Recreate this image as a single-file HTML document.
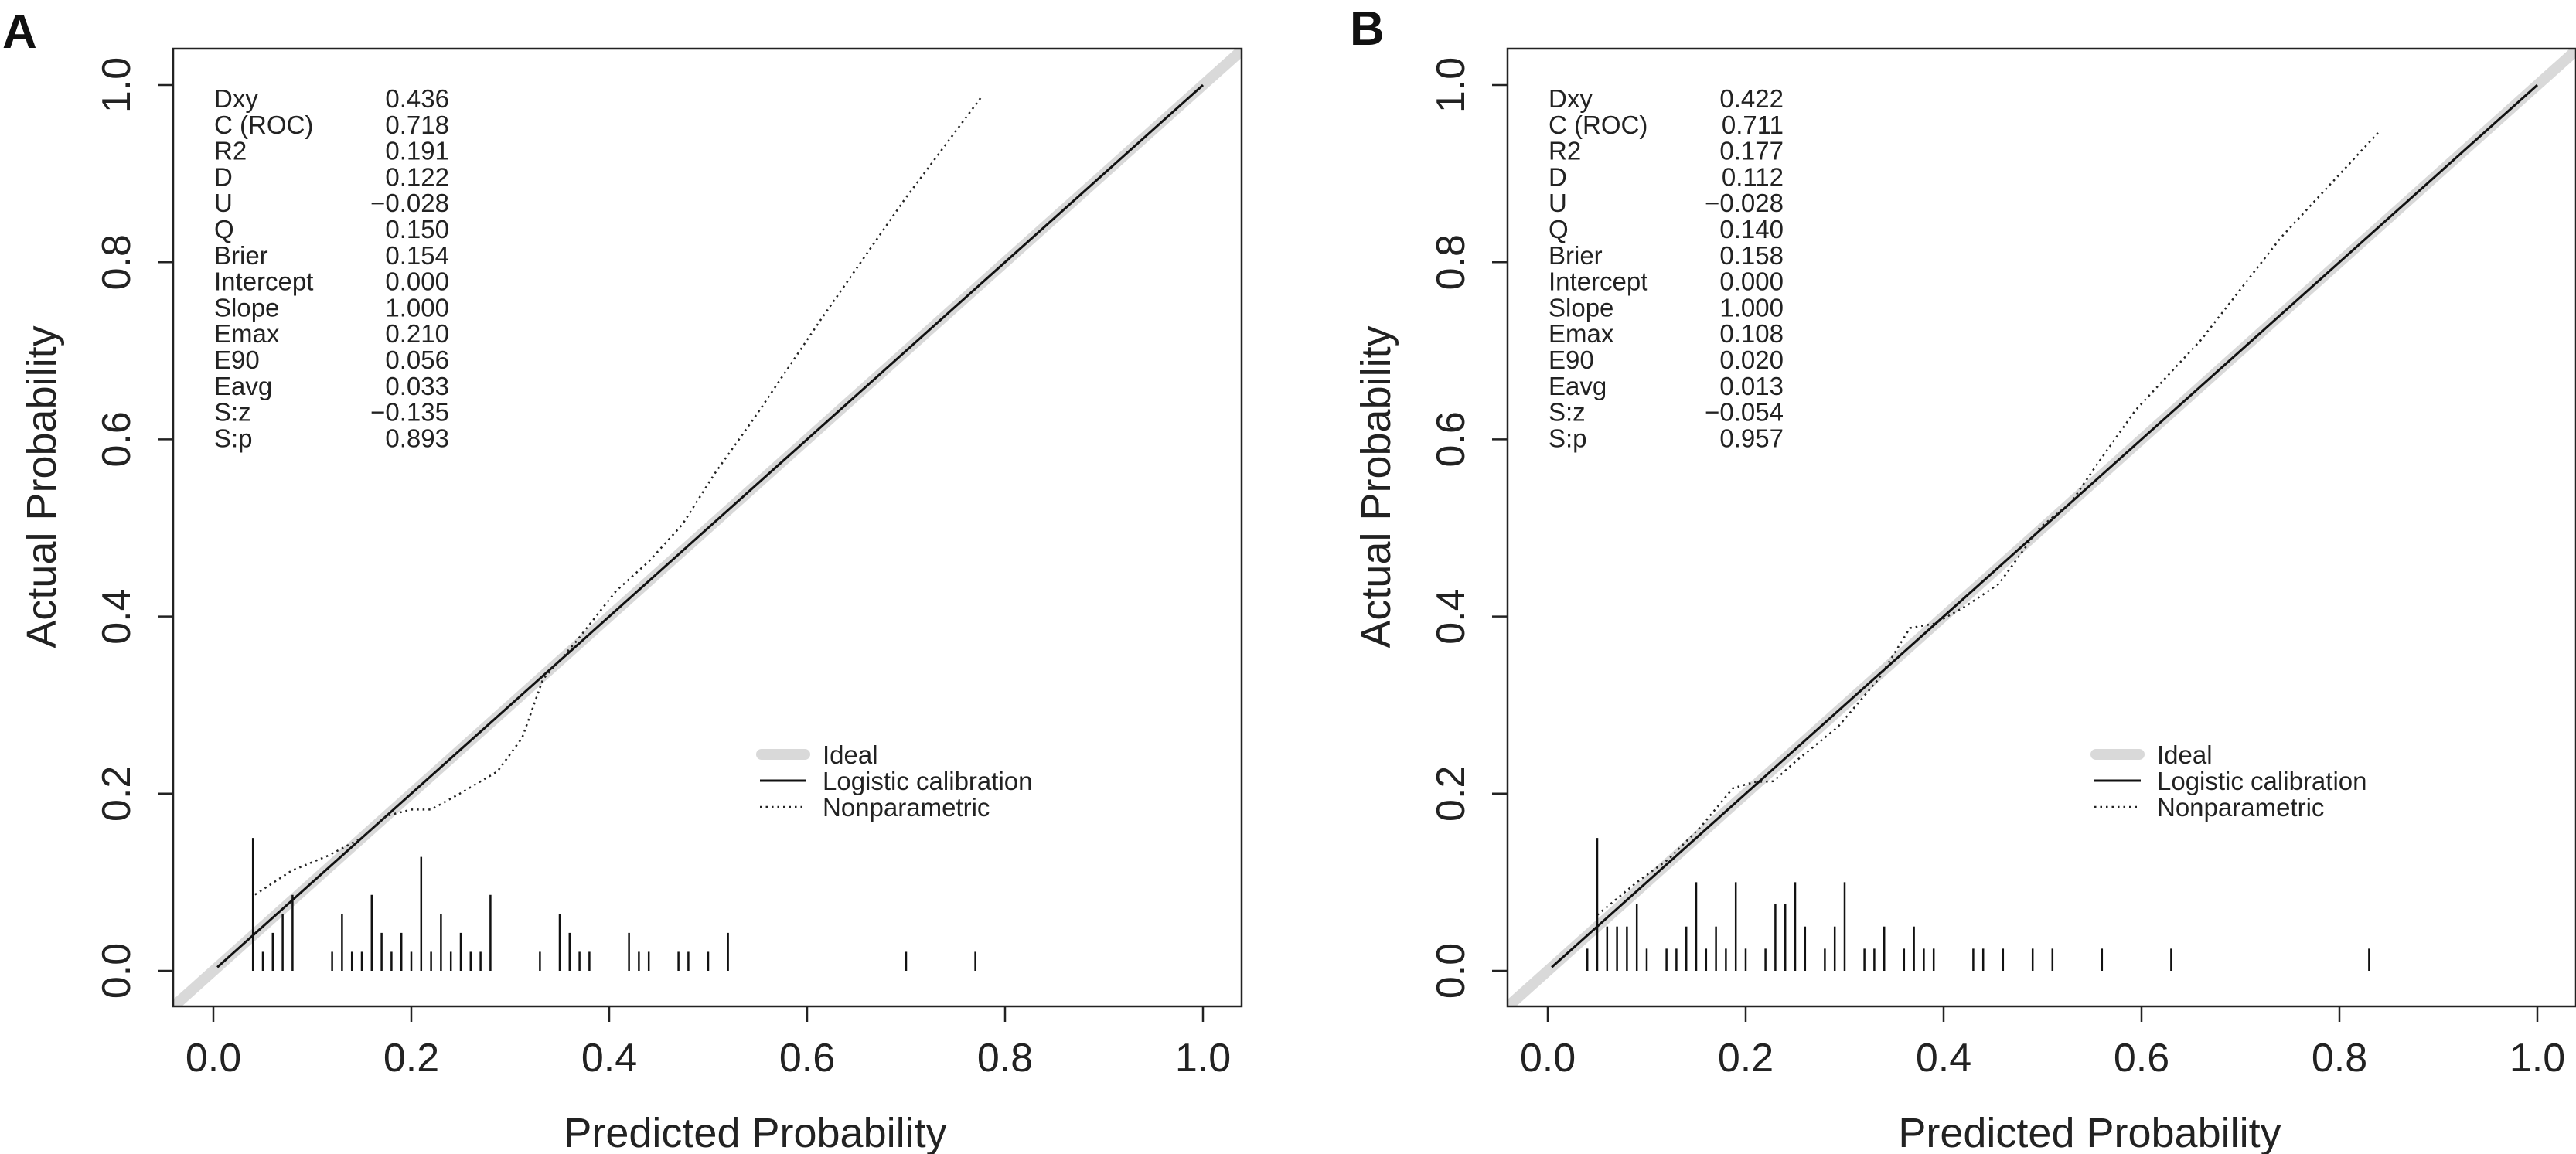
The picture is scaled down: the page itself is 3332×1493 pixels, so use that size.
<!DOCTYPE html>
<html><head><meta charset="utf-8"><style>
html,body{margin:0;padding:0;background:#fff;}
svg{display:block;font-family:"Liberation Sans",Arial,sans-serif;}
</style></head><body>
<svg id="fig" width="3332" height="1493" viewBox="0 0 3332 1493" xmlns="http://www.w3.org/2000/svg"></svg>
<script>
// ---- data ----
const tickValues = [0.0, 0.2, 0.4, 0.6, 0.8, 1.0];
const tickLabels = ["0.0", "0.2", "0.4", "0.6", "0.8", "1.0"];
const statNames = ["Dxy","C (ROC)","R2","D","U","Q","Brier","Intercept","Slope","Emax","E90","Eavg","S:z","S:p"];
const statsA = ["0.436","0.718","0.191","0.122","\u22120.028","0.150","0.154","0.000","1.000","0.210","0.056","0.033","\u22120.135","0.893"];
const statsB = ["0.422","0.711","0.177","0.112","\u22120.028","0.140","0.158","0.000","1.000","0.108","0.020","0.013","\u22120.054","0.957"];
const spikeXA = [.04,.05,.06,.07,.08,.12,.13,.14,.15,.16,.17,.18,.19,.20,.21,.22,.23,.24,.25,.26,.27,.28,.33,.35,.36,.37,.38,.42,.43,.44,.47,.48,.50,.52,.70,.77];
const spikeNA = [7,1,2,3,4,1,3,1,1,4,2,1,2,1,6,1,3,1,2,1,1,4,1,3,2,1,1,2,1,1,1,1,1,2,1,1];
const spikeXB = [.04,.05,.06,.07,.08,.09,.10,.12,.13,.14,.15,.16,.17,.18,.19,.20,.22,.23,.24,.25,.26,.28,.29,.30,.32,.33,.34,.36,.37,.38,.39,.43,.44,.46,.49,.51,.56,.63,.83];
const spikeNB = [1,6,2,2,2,3,1,1,1,2,4,1,2,1,4,1,1,3,3,4,2,1,2,4,1,1,2,1,2,1,1,1,1,1,1,1,1,1,1];
const npXA = [.042,.079,.116,.150,.175,.200,.220,.249,.287,.312,.333,.366,.407,.440,.474,.507,.549,.615,.698,.777];
const npYA = [.086,.113,.130,.150,.175,.182,.182,.200,.225,.263,.329,.371,.429,.462,.504,.562,.628,.737,.870,.988];
const npXB = [.050,.090,.122,.155,.187,.208,.228,.252,.293,.334,.366,.391,.423,.456,.497,.529,.554,.594,.660,.741,.839];
const npYB = [.063,.100,.126,.163,.206,.213,.214,.238,.275,.329,.387,.392,.412,.437,.500,.529,.570,.633,.712,.828,.946];
const legendLabels = ["Ideal","Logistic calibration","Nonparametric"];

const NS = "http://www.w3.org/2000/svg";
const svg = document.getElementById("fig");
function mk(tag, attrs, parent){ const e=document.createElementNS(NS,tag); for(const k in attrs) e.setAttribute(k,attrs[k]); (parent||svg).appendChild(e); return e; }

function panel(off, letter, stats, sx, sn, npx, npy, id){
  const g = mk("g",{});
  
  
  const X = v => off + 276 + v*1280;
  const Y = v => 1256 - v*1146;
  const L = off+224, R = off+1606, T = 63, B = 1302;
  const cp = mk("clipPath",{id:"clip"+id},g);
  mk("rect",{x:L,y:T,width:R-L,height:B-T},cp);
  // ideal
  const ideal = mk("line",{x1:X(-0.05),y1:Y(-0.05),x2:X(1.05),y2:Y(1.05),stroke:"#d9d9d9","stroke-width":14,"clip-path":"url(#clip"+id+")"},g);
  
  
  // logistic
  const lg = mk("line",{x1:X(0.004),y1:Y(0.004),x2:X(1),y2:Y(1),stroke:"#111","stroke-width":3},g);
  
  
  // nonparametric
  let d = npx.map((x,i)=>(i?"L":"M")+X(x).toFixed(1)+","+Y(npy[i]).toFixed(1)).join(" ");
  const np = mk("path",{d:d,fill:"none",stroke:"#222","stroke-width":2.5,"stroke-dasharray":"2.5 5"},g);
  
  
  // spikes
  const maxN = Math.max(...sn);
  sx.forEach((x,i)=>{
    const s = mk("line",{x1:X(x),x2:X(x),y1:Y(0),y2:Y(0.15*sn[i]/maxN),stroke:"#111","stroke-width":2.5},g);
    
    
  });
  // box
  const box = mk("rect",{x:L,y:T,width:R-L,height:B-T,fill:"none",stroke:"#222","stroke-width":2.5},g);
  
  
  // ticks
  tickValues.forEach((v,i)=>{
    mk("line",{x1:X(v),x2:X(v),y1:B,y2:B+20,stroke:"#222","stroke-width":2.5},g);
    const tx = mk("text",{x:X(v),y:1386,"font-size":52,"text-anchor":"middle",fill:"#222"},g);
    tx.textContent = tickLabels[i];
    
    
    mk("line",{x1:L-20,x2:L,y1:Y(v),y2:Y(v),stroke:"#222","stroke-width":2.5},g);
    const ty = mk("text",{x:0,y:0,"font-size":52,"text-anchor":"middle",fill:"#222",transform:`translate(${off+168},${Y(v)}) rotate(-90)`},g);
    ty.textContent = tickLabels[i];
    
    
  });
  const xt = mk("text",{x:off+977,y:1484,"font-size":54,"text-anchor":"middle",fill:"#222"},g);
  xt.textContent = "Predicted Probability";
  
  
  const yt = mk("text",{x:0,y:0,"font-size":54,"text-anchor":"middle",fill:"#222",transform:`translate(${off+72},630) rotate(-90)`},g);
  yt.textContent = "Actual Probability";
  
  
  const pl = mk("text",{x:off+(id==="a"?3:20),y:(id==="a"?62:58),"font-size":62,"font-weight":"bold",fill:"#111"},g);
  pl.textContent = letter;
  
  
  // stats
  statNames.forEach((n,i)=>{
    const yy = 139 + i*33.8;
    const a = mk("text",{x:off+277,y:yy,"font-size":33,fill:"#222"},g);
    a.textContent = n;
    
    
    const b = mk("text",{x:off+581,y:yy,"font-size":33,"text-anchor":"end",fill:"#222"},g);
    b.textContent = stats[i];
    
    
  });
  // legend
  const ly = [976,1010,1044];
  const lgG = mk("g",{},g);
  
  
  mk("line",{x1:off+985,x2:off+1041,y1:ly[0],y2:ly[0],stroke:"#d9d9d9","stroke-width":14,"stroke-linecap":"round"},lgG);
  mk("line",{x1:off+983,x2:off+1043,y1:ly[1],y2:ly[1],stroke:"#111","stroke-width":3},lgG);
  mk("line",{x1:off+983,x2:off+1043,y1:ly[2],y2:ly[2],stroke:"#222","stroke-width":2.5,"stroke-dasharray":"2.5 5"},lgG);
  legendLabels.forEach((t,i)=>{
    const e = mk("text",{x:off+1064,y:ly[i]+12,"font-size":33,fill:"#222"},lgG);
    e.textContent = t;
    
    
  });
}
panel(0,"A",statsA,spikeXA,spikeNA,npXA,npYA,"a");
panel(1726,"B",statsB,spikeXB,spikeNB,npXB,npYB,"b");
</script>
</body></html>
